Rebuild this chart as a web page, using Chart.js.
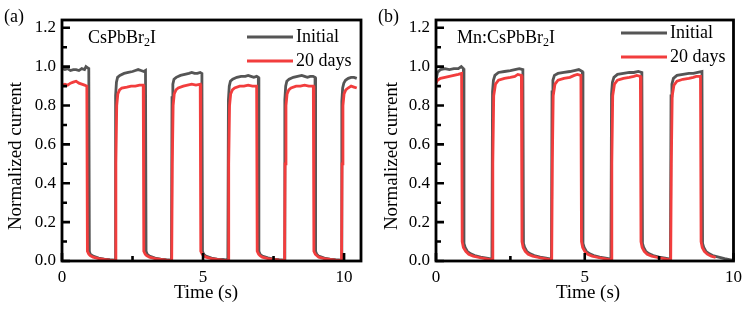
<!DOCTYPE html>
<html><head><meta charset="utf-8">
<script src="https://cdn.jsdelivr.net/npm/chart.js@4"></script>
<style>
html,body{margin:0;padding:0;background:#fff;}
#wrap{position:relative;width:748px;height:310px;background:#fff;}
.p{position:absolute;top:0;width:374px;height:310px;}
</style></head><body>
<div id="wrap">
<div class="p" style="left:0"><canvas id="ca" width="374" height="310"></canvas></div>
<div class="p" style="left:374px"><canvas id="cb" width="374" height="310"></canvas></div>
</div>
<script>
// ---- data ----
const seriesNames = ['Initial', '20 days'];
const panelLabels = ['(a)', '(b)'];
const sampleNames = ['CsPbBr2I', 'Mn:CsPbBr2I'];
const xTitle = 'Time (s)';
const yTitle = 'Normalized current';
const yTicks = [0, 0.2, 0.4, 0.6, 0.8, 1.0, 1.2];
const yMinorTicks = [0.1, 0.3, 0.5, 0.7, 0.9, 1.1];
const xTicks = [0, 5, 10];
const xMinorTicks = [2.5, 7.5];

// Panel (a) CsPbBr2I - Initial
const aTimeInitial = [
0,0.1,0.2,0.3,0.4,0.5,0.6,0.7,0.8,0.85,0.9,0.95,
0.97,1.0,1.1,1.3,1.5,1.7,1.88,
1.9,1.93,1.97,2.05,2.2,2.35,2.5,2.6,2.7,2.8,2.9,2.96,
2.98,3.02,3.1,3.3,3.5,3.7,3.88,
3.9,3.93,3.97,4.05,4.2,4.35,4.5,4.6,4.7,4.8,4.9,4.96,
4.98,5.02,5.1,5.3,5.5,5.7,5.88,
5.9,5.93,5.97,6.05,6.2,6.35,6.5,6.6,6.7,6.8,6.9,6.96,
6.98,7.02,7.1,7.3,7.5,7.7,7.88,
7.9,7.93,7.97,8.05,8.2,8.35,8.5,8.6,8.7,8.8,8.9,8.97,
8.99,9.03,9.1,9.3,9.5,9.7,9.9,
9.92,9.95,9.99,10.05,10.15,10.25,10.35,10.45];
const aInitial = [
0.99,0.985,0.99,0.98,0.985,0.985,0.98,0.99,0.985,1.0,0.995,0.99,
0.05,0.035,0.025,0.015,0.01,0.007,0.005,
0.85,0.92,0.945,0.955,0.965,0.97,0.975,0.98,0.985,0.98,0.975,0.98,
0.05,0.035,0.025,0.015,0.01,0.007,0.005,
0.84,0.91,0.935,0.945,0.955,0.96,0.965,0.97,0.965,0.965,0.97,0.965,
0.05,0.035,0.025,0.015,0.01,0.008,0.005,
0.83,0.9,0.925,0.935,0.945,0.95,0.95,0.955,0.95,0.945,0.95,0.945,
0.05,0.035,0.025,0.016,0.01,0.007,0.005,
0.83,0.9,0.925,0.935,0.945,0.95,0.955,0.95,0.945,0.95,0.95,0.945,
0.05,0.035,0.025,0.015,0.01,0.007,0.005,
0.82,0.89,0.915,0.93,0.94,0.945,0.945,0.94];

// Panel (a) CsPbBr2I - 20 days
const aTime20days = [
0,0.1,0.2,0.3,0.4,0.5,0.6,0.7,0.8,0.88,
0.9,0.95,1.0,1.1,1.3,1.5,1.7,1.89,
1.91,1.94,1.98,2.04,2.12,2.3,2.45,2.6,2.75,2.88,
2.9,2.95,3.0,3.1,3.3,3.5,3.7,3.89,
3.91,3.94,3.98,4.04,4.12,4.3,4.45,4.6,4.75,4.9,
4.92,4.97,5.02,5.1,5.3,5.5,5.7,5.89,
5.91,5.94,5.98,6.04,6.12,6.3,6.45,6.6,6.75,6.9,
6.92,6.97,7.02,7.1,7.3,7.5,7.7,7.89,
7.91,7.94,7.98,8.04,8.12,8.3,8.45,8.6,8.75,8.91,
8.93,8.98,9.03,9.1,9.3,9.5,9.7,9.91,
9.93,9.96,10.0,10.06,10.14,10.25,10.35,10.45];
const a20days = [
0.905,0.91,0.905,0.915,0.92,0.925,0.915,0.91,0.905,0.9,
0.05,0.035,0.028,0.02,0.012,0.008,0.005,0.003,
0.5,0.8,0.86,0.88,0.89,0.895,0.9,0.9,0.905,0.905,
0.05,0.035,0.028,0.02,0.012,0.008,0.005,0.003,
0.5,0.8,0.86,0.88,0.89,0.9,0.905,0.91,0.905,0.91,
0.05,0.035,0.028,0.02,0.012,0.008,0.005,0.003,
0.5,0.8,0.86,0.88,0.89,0.9,0.9,0.905,0.9,0.9,
0.05,0.035,0.028,0.02,0.012,0.008,0.005,0.003,
0.5,0.8,0.86,0.88,0.89,0.9,0.9,0.905,0.9,0.9,
0.05,0.035,0.028,0.02,0.012,0.008,0.005,0.003,
0.5,0.8,0.86,0.88,0.89,0.9,0.895,0.89];

// Panel (b) Mn:CsPbBr2I - Initial
const bTimeInitial = [
0,0.05,0.15,0.3,0.45,0.6,0.75,0.85,0.92,
0.94,0.98,1.05,1.15,1.3,1.5,1.7,1.88,
1.9,1.93,1.98,2.1,2.3,2.5,2.65,2.8,2.92,
2.94,2.98,3.05,3.15,3.3,3.5,3.7,3.88,
3.9,3.93,3.98,4.1,4.3,4.5,4.65,4.8,4.92,
4.94,4.98,5.05,5.15,5.3,5.5,5.7,5.88,
5.9,5.93,5.98,6.1,6.3,6.5,6.65,6.8,6.92,
6.94,6.98,7.05,7.15,7.3,7.5,7.7,7.88,
7.9,7.93,7.98,8.1,8.3,8.5,8.65,8.8,8.94,
8.96,9.0,9.07,9.17,9.3,9.5,9.7,9.9,9.97];
const bInitial = [
0.93,0.97,0.985,0.99,0.985,0.99,0.99,1.0,0.99,
0.09,0.07,0.05,0.038,0.028,0.02,0.015,0.01,
0.87,0.93,0.955,0.97,0.975,0.98,0.985,0.99,0.985,
0.09,0.07,0.05,0.038,0.028,0.02,0.015,0.01,
0.87,0.93,0.955,0.965,0.97,0.975,0.98,0.985,0.975,
0.09,0.07,0.05,0.038,0.028,0.02,0.015,0.01,
0.86,0.92,0.945,0.96,0.965,0.97,0.97,0.975,0.97,
0.09,0.07,0.05,0.038,0.028,0.02,0.015,0.01,
0.85,0.91,0.94,0.955,0.96,0.965,0.965,0.97,0.975,
0.09,0.07,0.05,0.038,0.028,0.02,0.012,0.006,0.004];

// Panel (b) Mn:CsPbBr2I - 20 days
const bTime20days = [
0,0.05,0.15,0.3,0.45,0.6,0.75,0.86,
0.88,0.92,1.0,1.1,1.25,1.45,1.65,1.89,
1.91,1.94,2.0,2.1,2.3,2.5,2.65,2.75,2.87,
2.89,2.93,3.0,3.1,3.25,3.45,3.65,3.89,
3.91,3.94,4.0,4.1,4.3,4.5,4.65,4.75,4.87,
4.89,4.93,5.0,5.1,5.25,5.45,5.65,5.89,
5.91,5.94,6.0,6.1,6.3,6.5,6.65,6.75,6.87,
6.89,6.93,7.0,7.1,7.25,7.45,7.65,7.89,
7.91,7.94,8.0,8.1,8.3,8.5,8.65,8.75,8.89,
8.91,8.95,9.02,9.12,9.25,9.4];
const b20days = [
0.915,0.93,0.94,0.945,0.95,0.955,0.96,0.965,
0.1,0.07,0.05,0.035,0.025,0.018,0.012,0.005,
0.5,0.85,0.91,0.93,0.94,0.945,0.95,0.96,0.955,
0.1,0.07,0.05,0.035,0.025,0.018,0.012,0.005,
0.5,0.85,0.91,0.93,0.94,0.945,0.955,0.96,0.955,
0.1,0.07,0.05,0.035,0.025,0.018,0.012,0.005,
0.5,0.85,0.91,0.93,0.94,0.945,0.95,0.955,0.95,
0.1,0.07,0.05,0.035,0.025,0.018,0.012,0.005,
0.5,0.85,0.905,0.925,0.935,0.94,0.945,0.95,0.95,
0.1,0.07,0.05,0.035,0.025,0.018];

// ---- styling ----
const FONT = "'Liberation Serif', 'DejaVu Serif', serif";
const GRAY = '#555555';
const RED = '#f23d3d';

function toPts(t, y) {
  const n = Math.min(t.length, y.length);
  const out = [];
  for (let i = 0; i < n; i++) out.push({x: t[i], y: y[i]});
  return out;
}

function drawSample(ctx, text, x, y) {
  let cx = x;
  for (const ch of text) {
    if (ch === '2') {
      ctx.font = '12px ' + FONT;
      ctx.fillText(ch, cx, y + 5);
      cx += ctx.measureText(ch).width;
    } else {
      ctx.font = '18px ' + FONT;
      ctx.fillText(ch, cx, y);
      cx += ctx.measureText(ch).width;
    }
  }
}

function makePlugin(p) {
  return {
    id: 'frame' + p.idx,
    afterDatasetsDraw(chart) {
      const ctx = chart.ctx, a = chart.chartArea;
      const xs = chart.scales.x, ys = chart.scales.y;
      ctx.save();
      ctx.strokeStyle = '#000';
      ctx.lineWidth = 2.6;
      ctx.lineCap = 'butt';
      ctx.beginPath();
      yTicks.forEach(v => { const py = ys.getPixelForValue(v); ctx.moveTo(a.left, py); ctx.lineTo(a.left + 8, py); });
      yMinorTicks.forEach(v => { const py = ys.getPixelForValue(v); ctx.moveTo(a.left, py); ctx.lineTo(a.left + 5, py); });
      xTicks.forEach(v => { if (v <= xs.max) { const px = xs.getPixelForValue(v); ctx.moveTo(px, a.bottom); ctx.lineTo(px, a.bottom - 8); } });
      xMinorTicks.forEach(v => { const px = xs.getPixelForValue(v); ctx.moveTo(px, a.bottom); ctx.lineTo(px, a.bottom - 5); });
      ctx.stroke();
      ctx.lineWidth = 2.8;
      ctx.strokeRect(a.left, a.top, a.right - a.left, a.bottom - a.top);

      ctx.fillStyle = '#000';
      ctx.textBaseline = 'middle';
      ctx.textAlign = 'left';
      const lg = [[GRAY, seriesNames[0], p.legY[0]], [RED, seriesNames[1], p.legY[1]]];
      lg.forEach(([c, t, yy]) => {
        ctx.strokeStyle = c; ctx.lineWidth = 2.8;
        ctx.beginPath(); ctx.moveTo(247, yy); ctx.lineTo(293, yy); ctx.stroke();
        ctx.font = '18px ' + FONT; ctx.fillStyle = '#000';
        ctx.fillText(t, 296, yy);
      });
      drawSample(ctx, p.sample, p.sampleX, 38);
      ctx.font = '18px ' + FONT;
      ctx.fillText(p.panel, 4, 17);
      ctx.font = '19px ' + FONT;
      ctx.textAlign = 'center';
      ctx.fillText(xTitle, p.xTitleX, 293);
      ctx.save();
      ctx.translate(p.yTitleX, 156);
      ctx.rotate(-Math.PI / 2);
      ctx.fillText(yTitle, 0, 0);
      ctx.restore();
      ctx.restore();
    }
  };
}

function makeChart(id, p) {
  return new Chart(document.getElementById(id), {
    type: 'line',
    data: {datasets: [
      {label: seriesNames[1], data: toPts(p.tD, p.yD), borderColor: RED, borderWidth: 2.8, pointRadius: 0, tension: 0, order: 0, fill: false},
      {label: seriesNames[0], data: toPts(p.tI, p.yI), borderColor: GRAY, borderWidth: 2.8, pointRadius: 0, tension: 0, order: 1, fill: false}
    ]},
    options: {
      responsive: false, animation: false, devicePixelRatio: 1,
      layout: {padding: {left: 0, right: 13, top: 20, bottom: 0}},
      plugins: {legend: {display: false}, tooltip: {enabled: false}, title: {display: false}},
      scales: {
        x: {
          type: 'linear', min: 0, max: p.xMax,
          afterFit: s => { s.height = 49; },
          afterBuildTicks: s => { s.ticks = xTicks.filter(v => v <= p.xMax).map(v => ({value: v})); },
          ticks: {padding: 6, color: '#000', font: {family: FONT, size: 17}, maxRotation: 0, autoSkip: false, callback: v => String(v)},
          grid: {display: false, drawTicks: false}, border: {display: false}
        },
        y: {
          type: 'linear', min: 0, max: 1.24,
          afterFit: s => { s.width = 62; },
          afterBuildTicks: s => { s.ticks = yTicks.map(v => ({value: v})); },
          ticks: {padding: 6, color: '#000', font: {family: FONT, size: 17}, callback: v => Number(v).toFixed(1)},
          grid: {display: false, drawTicks: false}, border: {display: false}
        }
      }
    },
    plugins: [makePlugin(p)]
  });
}

function build() {
  makeChart('ca', {idx: 0, tI: aTimeInitial, yI: aInitial, tD: aTime20days, yD: a20days, xMax: 10.6,
    sample: sampleNames[0], panel: panelLabels[0], sampleX: 88, legY: [37, 61], xTitleX: 206, yTitleX: 16});
  makeChart('cb', {idx: 1, tI: bTimeInitial, yI: bInitial, tD: bTime20days, yD: b20days, xMax: 10,
    sample: sampleNames[1], panel: panelLabels[1], sampleX: 83, legY: [33, 57], xTitleX: 214, yTitleX: 18});
}
const loads = ['17px', '18px', '19px', '12px'].map(s => document.fonts.load(s + " 'Liberation Serif'"));
Promise.all(loads).then(build, build);
</script>
</body></html>
